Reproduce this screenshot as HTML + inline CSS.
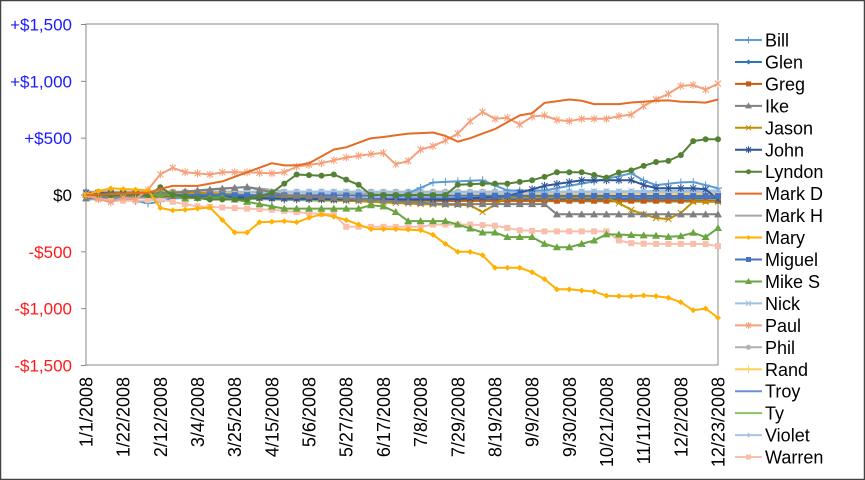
<!DOCTYPE html>
<html><head><meta charset="utf-8">
<style>
html,body{margin:0;padding:0;background:#fff;}
body{width:865px;height:480px;overflow:hidden;font-family:"Liberation Sans",Arial,sans-serif;}
#c{position:absolute;left:0;top:0;}
</style></head>
<body>
<svg id="c" width="865" height="480" xmlns="http://www.w3.org/2000/svg"></svg>
<script>
const S=document.getElementById('c');
const L=86,R=718,T=24,B=365,Z=195,K=(B-T)/3000;
const N=52,dx=(R-L)/51;
const X=i=>L+i*dx, Y=v=>Z-v*K;
let h='';
h+='<rect x="0.5" y="0.5" width="864" height="479" fill="#fff" stroke="#444" stroke-width="1.5"/>';
h+=`<rect x="${L}" y="${T}" width="${R-L}" height="${B-T}" fill="none" stroke="#888" stroke-width="1"/>`;
const yl=[[1500,'+$1,500','#1a1aff'],[1000,'+$1,000','#1a1aff'],[500,'+$500','#1a1aff'],[0,'$0','#000'],[-500,'-$500','#ff1a1a'],[-1000,'-$1,000','#ff1a1a'],[-1500,'-$1,500','#ff1a1a']];
yl.forEach(a=>{h+=`<text x="72" y="${Y(a[0])+6}" text-anchor="end" font-size="17" fill="${a[2]}">${a[1]}</text>`;
h+=`<line x1="${L-5}" x2="${L}" y1="${Y(a[0])}" y2="${Y(a[0])}" stroke="#888"/>`;});
const labs=['1/1/2008','1/22/2008','2/12/2008','3/4/2008','3/25/2008','4/15/2008','5/6/2008','5/27/2008','6/17/2008','7/8/2008','7/29/2008','8/19/2008','9/9/2008','9/30/2008','10/21/2008','11/11/2008','12/2/2008','12/23/2008'];
labs.forEach((s,k)=>{const x=X(k*3);h+=`<text transform="translate(${x+6.5},377) rotate(-90)" text-anchor="end" font-size="18" fill="#000">${s}</text>`;});
function sh(w){return w<=42? w-Math.min(1,w/8) : w-1+(w-42)/9;}
function interp(pts){pts=pts.map(p=>[sh(p[0]),p[1]]);const a=[];for(let i=0;i<N;i++){let j=0;while(j<pts.length-2&&pts[j+1][0]<i)j++;const[w0,v0]=pts[j],[w1,v1]=pts[j+1];let t=(i-w0)/(w1-w0);t=Math.max(0,Math.min(1,t));a[i]=v0+(v1-v0)*t;}return a;}
const D={
Bill:interp([[0,0],[4,-40],[6,-80],[8,-30],[12,-20],[17,-40],[21,-40],[26,-30],[29,110],[33,130],[35,40],[38,40],[42,120],[44,170],[45,200],[46,80],[49,120],[51,60]]),
Glen:interp([[0,0],[10,0],[17,-20],[24,-40],[36,-40],[51,-30]]),
Greg:interp([[0,0],[12,-20],[30,-50],[51,-50]]),
Ike:interp([[0,-30],[8,20],[10,40],[14,70],[17,0],[30,-80],[38,-80],[39,-170],[51,-170]]),
Jason:interp([[0,20],[10,20],[14,0],[20,-40],[28,-80],[32,-90],[33,-150],[35,-20],[43,-20],[45,-150],[47,-220],[48,-200],[49,-60],[51,-60]]),
John:interp([[0,20],[16,-30],[22,-40],[30,-40],[35,-10],[38,80],[41,130],[45,130],[46,60],[50,60],[51,-40]]),
Lyndon:interp([[0,0],[6,0],[7,80],[8,0],[11,-40],[14,-40],[16,20],[17,100],[18,180],[20,170],[21,180],[23,90],[24,0],[30,0],[31,90],[33,100],[35,100],[37,130],[38,160],[39,200],[41,200],[43,150],[44,210],[45,220],[46,280],[47,300],[48,300],[49,470],[50,490],[51,490]]),
MarkD:interp([[0,0],[6,20],[7,60],[8,80],[10,80],[12,120],[14,200],[16,280],[17,260],[18,260],[19,280],[21,400],[22,420],[24,500],[25,510],[27,540],[29,550],[30,520],[31,470],[32,500],[34,580],[35,640],[36,700],[37,720],[38,810],[40,840],[41,830],[42,800],[44,800],[45,820],[46,820],[47,840],[48,820],[49,820],[50,810],[51,840]]),
MarkH:interp([[0,-40],[3,-30],[8,20],[12,60],[14,70],[18,20],[30,0],[51,0]]),
Mary:interp([[0,0],[2,60],[4,50],[6,40],[7,-140],[9,-130],[11,-110],[12,-220],[13,-330],[14,-330],[15,-240],[17,-230],[18,-240],[19,-200],[20,-170],[21,-190],[22,-220],[24,-300],[26,-300],[28,-310],[29,-350],[30,-430],[31,-500],[32,-500],[33,-530],[34,-640],[36,-640],[37,-680],[38,-740],[39,-830],[40,-830],[42,-850],[43,-890],[45,-890],[46,-880],[47,-900],[48,-910],[49,-1020],[50,-990],[51,-1080]]),
Miguel:interp([[0,0],[51,-10]]),
MikeS:interp([[0,0],[8,0],[9,-30],[12,-20],[14,-60],[16,-100],[17,-120],[23,-120],[24,-90],[25,-100],[26,-150],[27,-230],[30,-230],[31,-260],[33,-330],[34,-330],[35,-370],[37,-370],[38,-430],[39,-460],[40,-460],[42,-400],[43,-340],[44,-350],[47,-360],[48,-380],[49,-320],[50,-380],[51,-290]]),
Nick:interp([[0,10],[10,20],[20,30],[30,20],[40,30],[51,40]]),
Paul:interp([[0,0],[1,-30],[2,-80],[3,-20],[5,-40],[7,200],[8,240],[9,200],[11,180],[12,200],[14,200],[16,190],[17,200],[18,250],[20,280],[22,330],[24,360],[25,370],[26,270],[27,300],[28,400],[29,430],[30,480],[31,540],[32,650],[33,730],[34,670],[35,680],[36,620],[37,690],[38,700],[39,660],[40,650],[41,670],[43,670],[44,700],[45,710],[46,830],[47,850],[48,950],[49,980],[50,920],[51,980]]),
Phil:interp([[0,30],[51,30]]),
Rand:interp([[0,10],[20,0],[51,10]]),
Troy:interp([[0,-20],[20,-30],[51,-20]]),
Ty:interp([[0,0],[20,-50],[51,-60]]),
Violet:interp([[0,0],[12,10],[20,20],[25,-30],[30,20],[51,20]]),
Warren:interp([[0,0],[1,-30],[2,-50],[5,-50],[7,-40],[8,-60],[9,-80],[10,-100],[12,-110],[14,-120],[16,-130],[19,-160],[21,-170],[22,-280],[28,-280],[29,-260],[32,-260],[34,-270],[36,-310],[38,-320],[43,-320],[44,-420],[46,-430],[50,-430],[51,-450]])
};
const ser=[
['Bill','Bill','#5B9BD5','plus'],['Glen','Glen','#2E75B6','diamond'],['Greg','Greg','#C55A11','square'],['Ike','Ike','#7F7F7F','tri'],
['Jason','Jason','#BF9000','x'],['John','John','#2F5597','star'],['Lyndon','Lyndon','#548235','circle'],['MarkD','Mark D','#E46C23','none'],
['MarkH','Mark H','#A5A5A5','none'],['Mary','Mary','#FFB000','diamond'],['Miguel','Miguel','#4472C4','square'],['MikeS','Mike S','#6AA541','tri'],
['Nick','Nick','#9DC3E6','x'],['Paul','Paul','#F4A07A','star'],['Phil','Phil','#B0B0B0','circle'],['Rand','Rand','#FFD05A','plus'],
['Troy','Troy','#6F8FD4','none'],['Ty','Ty','#8CC168','none'],['Violet','Violet','#A9C4EA','diamond'],['Warren','Warren','#F8C0AC','square']];
function mk(t,x,y,c,s){s=s||3;switch(t){
case 'plus':return `<path d="M${x-s-1} ${y}H${x+s+1}M${x} ${y-s-1}V${y+s+1}" stroke="${c}" stroke-width="1"/>`;
case 'diamond':return `<path d="M${x} ${y-s}L${x+s} ${y}L${x} ${y+s}L${x-s} ${y}Z" fill="${c}"/>`;
case 'square':return `<rect x="${x-s}" y="${y-s}" width="${2*s}" height="${2*s}" fill="${c}"/>`;
case 'tri':return `<path d="M${x} ${y-s-1}L${x+s+1} ${y+s}L${x-s-1} ${y+s}Z" fill="${c}"/>`;
case 'x':return `<path d="M${x-s} ${y-s}L${x+s} ${y+s}M${x-s} ${y+s}L${x+s} ${y-s}" stroke="${c}" stroke-width="1"/>`;
case 'star':return `<path d="M${x-s} ${y-s}L${x+s} ${y+s}M${x-s} ${y+s}L${x+s} ${y-s}M${x} ${y-s-1}V${y+s+1}" stroke="${c}" stroke-width="1"/>`;
case 'circle':return `<circle cx="${x}" cy="${y}" r="${s}" fill="${c}"/>`;
default:return '';}}
const order=[8,14,16,17,18,15,12,0,1,2,4,5,10,3,19,11,6,13,9,7];
order.forEach(k=>{const[s,n,c,m]=ser[k];const d=D[s];let p='';d.forEach((v,i)=>{p+=(i?'L':'M')+X(i).toFixed(1)+' '+Y(v).toFixed(1);});
h+=`<path d="${p}" fill="none" stroke="${c}" stroke-width="2" stroke-linejoin="round"/>`;
if(m!=='none')d.forEach((v,i)=>{h+=mk(m,X(i),Y(v),c);});});
ser.forEach((a,k)=>{const y=40+k*21.95;h+=`<line x1="735" x2="762" y1="${y}" y2="${y}" stroke="${a[2]}" stroke-width="2"/>`;
if(a[3]!=='none')h+=mk(a[3],748.5,y,a[2],2.5);
h+=`<text x="765" y="${y+6.5}" font-size="18" fill="#000">${a[1]}</text>`;});
S.innerHTML=h;
</script>
</body></html>
